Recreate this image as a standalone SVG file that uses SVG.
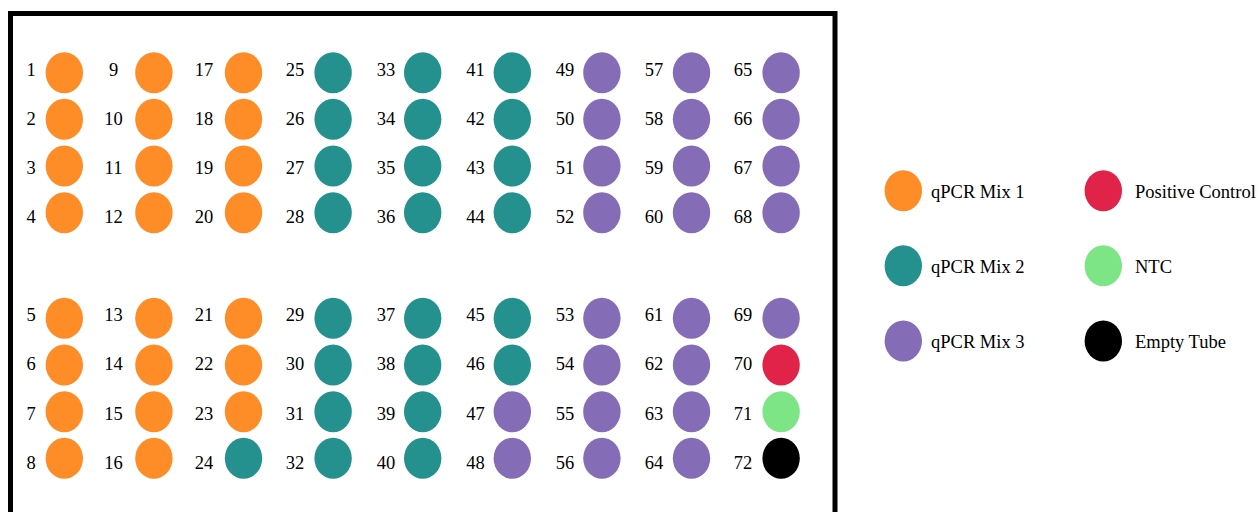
<svg xmlns="http://www.w3.org/2000/svg" width="1258" height="512" viewBox="0 0 1258 512">
<style>
text{font-family:"Liberation Serif","Times New Roman",serif;font-size:18.5px;fill:#000}
.n{text-anchor:middle}
.o{fill:#FE8C27}.t{fill:#24918E}.p{fill:#846CB6}.r{fill:#E1234A}.g{fill:#7EE587}.k{fill:#000}
</style>
<rect x="0" y="0" width="1258" height="512" fill="#fff"/>
<rect id="plate" x="10.5" y="13.5" width="824.5" height="520" fill="none" stroke="#000" stroke-width="5"/>
<g id="wells">
<g id="w1"><text class="n" x="31" y="76">1</text><ellipse class="o" cx="64.3" cy="72.7" rx="18.7" ry="20.5"/></g>
<g id="w2"><text class="n" x="31" y="125">2</text><ellipse class="o" cx="64.3" cy="119.3" rx="18.7" ry="20.5"/></g>
<g id="w3"><text class="n" x="31" y="174">3</text><ellipse class="o" cx="64.3" cy="166" rx="18.7" ry="20.5"/></g>
<g id="w4"><text class="n" x="31" y="223">4</text><ellipse class="o" cx="64.3" cy="212.7" rx="18.7" ry="20.5"/></g>
<g id="w5"><text class="n" x="31" y="321">5</text><ellipse class="o" cx="64.3" cy="318.3" rx="18.7" ry="20.5"/></g>
<g id="w6"><text class="n" x="31" y="370">6</text><ellipse class="o" cx="64.3" cy="365" rx="18.7" ry="20.5"/></g>
<g id="w7"><text class="n" x="31" y="419.5">7</text><ellipse class="o" cx="64.3" cy="411.7" rx="18.7" ry="20.5"/></g>
<g id="w8"><text class="n" x="31" y="468.5">8</text><ellipse class="o" cx="64.3" cy="458.3" rx="18.7" ry="20.5"/></g>

<g id="w9"><text class="n" x="113.5" y="76">9</text><ellipse class="o" cx="153.9" cy="72.7" rx="18.7" ry="20.5"/></g>
<g id="w10"><text class="n" x="113.5" y="125">10</text><ellipse class="o" cx="153.9" cy="119.3" rx="18.7" ry="20.5"/></g>
<g id="w11"><text class="n" x="113.5" y="174">11</text><ellipse class="o" cx="153.9" cy="166" rx="18.7" ry="20.5"/></g>
<g id="w12"><text class="n" x="113.5" y="223">12</text><ellipse class="o" cx="153.9" cy="212.7" rx="18.7" ry="20.5"/></g>
<g id="w13"><text class="n" x="113.5" y="321">13</text><ellipse class="o" cx="153.9" cy="318.3" rx="18.7" ry="20.5"/></g>
<g id="w14"><text class="n" x="113.5" y="370">14</text><ellipse class="o" cx="153.9" cy="365" rx="18.7" ry="20.5"/></g>
<g id="w15"><text class="n" x="113.5" y="419.5">15</text><ellipse class="o" cx="153.9" cy="411.7" rx="18.7" ry="20.5"/></g>
<g id="w16"><text class="n" x="113.5" y="468.5">16</text><ellipse class="o" cx="153.9" cy="458.3" rx="18.7" ry="20.5"/></g>

<g id="w17"><text class="n" x="204" y="76">17</text><ellipse class="o" cx="243.5" cy="72.7" rx="18.7" ry="20.5"/></g>
<g id="w18"><text class="n" x="204" y="125">18</text><ellipse class="o" cx="243.5" cy="119.3" rx="18.7" ry="20.5"/></g>
<g id="w19"><text class="n" x="204" y="174">19</text><ellipse class="o" cx="243.5" cy="166" rx="18.7" ry="20.5"/></g>
<g id="w20"><text class="n" x="204" y="223">20</text><ellipse class="o" cx="243.5" cy="212.7" rx="18.7" ry="20.5"/></g>
<g id="w21"><text class="n" x="204" y="321">21</text><ellipse class="o" cx="243.5" cy="318.3" rx="18.7" ry="20.5"/></g>
<g id="w22"><text class="n" x="204" y="370">22</text><ellipse class="o" cx="243.5" cy="365" rx="18.7" ry="20.5"/></g>
<g id="w23"><text class="n" x="204" y="419.5">23</text><ellipse class="o" cx="243.5" cy="411.7" rx="18.7" ry="20.5"/></g>
<g id="w24"><text class="n" x="204" y="468.5">24</text><ellipse class="t" cx="243.5" cy="458.3" rx="18.7" ry="20.5"/></g>

<g id="w25"><text class="n" x="295" y="76">25</text><ellipse class="t" cx="333.1" cy="72.7" rx="18.7" ry="20.5"/></g>
<g id="w26"><text class="n" x="295" y="125">26</text><ellipse class="t" cx="333.1" cy="119.3" rx="18.7" ry="20.5"/></g>
<g id="w27"><text class="n" x="295" y="174">27</text><ellipse class="t" cx="333.1" cy="166" rx="18.7" ry="20.5"/></g>
<g id="w28"><text class="n" x="295" y="223">28</text><ellipse class="t" cx="333.1" cy="212.7" rx="18.7" ry="20.5"/></g>
<g id="w29"><text class="n" x="295" y="321">29</text><ellipse class="t" cx="333.1" cy="318.3" rx="18.7" ry="20.5"/></g>
<g id="w30"><text class="n" x="295" y="370">30</text><ellipse class="t" cx="333.1" cy="365" rx="18.7" ry="20.5"/></g>
<g id="w31"><text class="n" x="295" y="419.5">31</text><ellipse class="t" cx="333.1" cy="411.7" rx="18.7" ry="20.5"/></g>
<g id="w32"><text class="n" x="295" y="468.5">32</text><ellipse class="t" cx="333.1" cy="458.3" rx="18.7" ry="20.5"/></g>

<g id="w33"><text class="n" x="386" y="76">33</text><ellipse class="t" cx="422.7" cy="72.7" rx="18.7" ry="20.5"/></g>
<g id="w34"><text class="n" x="386" y="125">34</text><ellipse class="t" cx="422.7" cy="119.3" rx="18.7" ry="20.5"/></g>
<g id="w35"><text class="n" x="386" y="174">35</text><ellipse class="t" cx="422.7" cy="166" rx="18.7" ry="20.5"/></g>
<g id="w36"><text class="n" x="386" y="223">36</text><ellipse class="t" cx="422.7" cy="212.7" rx="18.7" ry="20.5"/></g>
<g id="w37"><text class="n" x="386" y="321">37</text><ellipse class="t" cx="422.7" cy="318.3" rx="18.7" ry="20.5"/></g>
<g id="w38"><text class="n" x="386" y="370">38</text><ellipse class="t" cx="422.7" cy="365" rx="18.7" ry="20.5"/></g>
<g id="w39"><text class="n" x="386" y="419.5">39</text><ellipse class="t" cx="422.7" cy="411.7" rx="18.7" ry="20.5"/></g>
<g id="w40"><text class="n" x="386" y="468.5">40</text><ellipse class="t" cx="422.7" cy="458.3" rx="18.7" ry="20.5"/></g>

<g id="w41"><text class="n" x="475.5" y="76">41</text><ellipse class="t" cx="512.3" cy="72.7" rx="18.7" ry="20.5"/></g>
<g id="w42"><text class="n" x="475.5" y="125">42</text><ellipse class="t" cx="512.3" cy="119.3" rx="18.7" ry="20.5"/></g>
<g id="w43"><text class="n" x="475.5" y="174">43</text><ellipse class="t" cx="512.3" cy="166" rx="18.7" ry="20.5"/></g>
<g id="w44"><text class="n" x="475.5" y="223">44</text><ellipse class="t" cx="512.3" cy="212.7" rx="18.7" ry="20.5"/></g>
<g id="w45"><text class="n" x="475.5" y="321">45</text><ellipse class="t" cx="512.3" cy="318.3" rx="18.7" ry="20.5"/></g>
<g id="w46"><text class="n" x="475.5" y="370">46</text><ellipse class="t" cx="512.3" cy="365" rx="18.7" ry="20.5"/></g>
<g id="w47"><text class="n" x="475.5" y="419.5">47</text><ellipse class="p" cx="512.3" cy="411.7" rx="18.7" ry="20.5"/></g>
<g id="w48"><text class="n" x="475.5" y="468.5">48</text><ellipse class="p" cx="512.3" cy="458.3" rx="18.7" ry="20.5"/></g>

<g id="w49"><text class="n" x="565" y="76">49</text><ellipse class="p" cx="601.9" cy="72.7" rx="18.7" ry="20.5"/></g>
<g id="w50"><text class="n" x="565" y="125">50</text><ellipse class="p" cx="601.9" cy="119.3" rx="18.7" ry="20.5"/></g>
<g id="w51"><text class="n" x="565" y="174">51</text><ellipse class="p" cx="601.9" cy="166" rx="18.7" ry="20.5"/></g>
<g id="w52"><text class="n" x="565" y="223">52</text><ellipse class="p" cx="601.9" cy="212.7" rx="18.7" ry="20.5"/></g>
<g id="w53"><text class="n" x="565" y="321">53</text><ellipse class="p" cx="601.9" cy="318.3" rx="18.7" ry="20.5"/></g>
<g id="w54"><text class="n" x="565" y="370">54</text><ellipse class="p" cx="601.9" cy="365" rx="18.7" ry="20.5"/></g>
<g id="w55"><text class="n" x="565" y="419.5">55</text><ellipse class="p" cx="601.9" cy="411.7" rx="18.7" ry="20.5"/></g>
<g id="w56"><text class="n" x="565" y="468.5">56</text><ellipse class="p" cx="601.9" cy="458.3" rx="18.7" ry="20.5"/></g>

<g id="w57"><text class="n" x="654" y="76">57</text><ellipse class="p" cx="691.5" cy="72.7" rx="18.7" ry="20.5"/></g>
<g id="w58"><text class="n" x="654" y="125">58</text><ellipse class="p" cx="691.5" cy="119.3" rx="18.7" ry="20.5"/></g>
<g id="w59"><text class="n" x="654" y="174">59</text><ellipse class="p" cx="691.5" cy="166" rx="18.7" ry="20.5"/></g>
<g id="w60"><text class="n" x="654" y="223">60</text><ellipse class="p" cx="691.5" cy="212.7" rx="18.7" ry="20.5"/></g>
<g id="w61"><text class="n" x="654" y="321">61</text><ellipse class="p" cx="691.5" cy="318.3" rx="18.7" ry="20.5"/></g>
<g id="w62"><text class="n" x="654" y="370">62</text><ellipse class="p" cx="691.5" cy="365" rx="18.7" ry="20.5"/></g>
<g id="w63"><text class="n" x="654" y="419.5">63</text><ellipse class="p" cx="691.5" cy="411.7" rx="18.7" ry="20.5"/></g>
<g id="w64"><text class="n" x="654" y="468.5">64</text><ellipse class="p" cx="691.5" cy="458.3" rx="18.7" ry="20.5"/></g>

<g id="w65"><text class="n" x="743" y="76">65</text><ellipse class="p" cx="781.1" cy="72.7" rx="18.7" ry="20.5"/></g>
<g id="w66"><text class="n" x="743" y="125">66</text><ellipse class="p" cx="781.1" cy="119.3" rx="18.7" ry="20.5"/></g>
<g id="w67"><text class="n" x="743" y="174">67</text><ellipse class="p" cx="781.1" cy="166" rx="18.7" ry="20.5"/></g>
<g id="w68"><text class="n" x="743" y="223">68</text><ellipse class="p" cx="781.1" cy="212.7" rx="18.7" ry="20.5"/></g>
<g id="w69"><text class="n" x="743" y="321">69</text><ellipse class="p" cx="781.1" cy="318.3" rx="18.7" ry="20.5"/></g>
<g id="w70"><text class="n" x="743" y="370">70</text><ellipse class="r" cx="781.1" cy="365" rx="18.7" ry="20.5"/></g>
<g id="w71"><text class="n" x="743" y="419.5">71</text><ellipse class="g" cx="781.1" cy="411.7" rx="18.7" ry="20.5"/></g>
<g id="w72"><text class="n" x="743" y="468.5">72</text><ellipse class="k" cx="781.1" cy="458.3" rx="18.7" ry="20.5"/></g>
</g>
<g id="connectors"/>
<g id="legend">
<g id="lg-mix1"><ellipse class="o" cx="903.3" cy="190.7" rx="18.7" ry="20.5"/><text x="931" y="197.5">qPCR Mix 1</text></g>
<g id="lg-mix2"><ellipse class="t" cx="903.3" cy="265.8" rx="18.7" ry="20.5"/><text x="931" y="272.6">qPCR Mix 2</text></g>
<g id="lg-mix3"><ellipse class="p" cx="903.3" cy="341" rx="18.7" ry="20.5"/><text x="931" y="347.8">qPCR Mix 3</text></g>
<g id="lg-pos"><ellipse class="r" cx="1103.3" cy="190.7" rx="18.7" ry="20.5"/><text x="1135" y="197.5">Positive Control</text></g>
<g id="lg-ntc"><ellipse class="g" cx="1103.3" cy="265.8" rx="18.7" ry="20.5"/><text x="1135" y="272.6">NTC</text></g>
<g id="lg-empty"><ellipse class="k" cx="1103.3" cy="341" rx="18.7" ry="20.5"/><text x="1135" y="347.8">Empty Tube</text></g>
</g>
</svg>
